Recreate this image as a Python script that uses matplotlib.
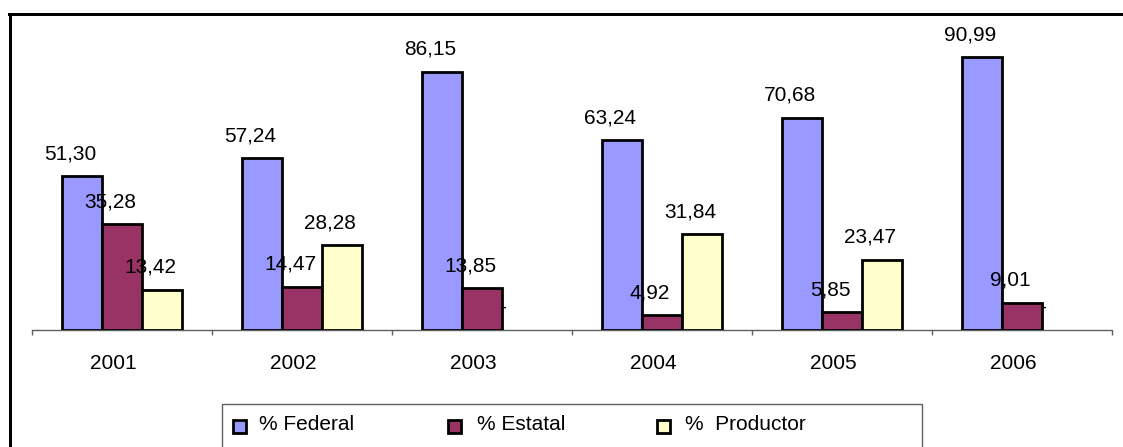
import matplotlib
matplotlib.use("Agg")
import matplotlib.pyplot as plt
import numpy as np
from matplotlib.patches import Rectangle
from matplotlib.lines import Line2D
from matplotlib.transforms import ScaledTranslation

plt.rcParams['font.family'] = ['Liberation Sans', 'DejaVu Sans']

years = ['2001', '2002', '2003', '2004', '2005', '2006']
federal = [51.30, 57.24, 86.15, 63.24, 70.68, 90.99]
estatal = [35.28, 14.47, 13.85, 4.92, 5.85, 9.01]
productor = [13.42, 28.28, 0.0, 31.84, 23.47, 0.0]
series_names = ['% Federal', '% Estatal', '%  Productor']
colors = ['#9999FF', '#993366', '#FFFFCC']

W, H, DPI = 1123, 447, 100
fig = plt.figure(figsize=(W / DPI, H / DPI), dpi=DPI)
px = 72.0 / DPI  # points per pixel

ax = fig.add_axes([32 / W, 1 - 330 / H, 1080 / W, 300 / H])
x = np.arange(len(years))
bw = 0.222
fs = 15

for i, (vals, col) in enumerate(zip([federal, estatal, productor], colors)):
    xs = x + (i - 1) * bw
    lws = [2.0 if v > 0 else 0.0 for v in vals]
    ax.bar(xs, vals, width=bw, color=col, edgecolor='black', linewidth=lws, zorder=3)
    for xi, v in zip(xs, vals):
        if v == 0:
            ax.annotate('-', xy=(xi, v), xytext=(-19 * px, 17 * px), textcoords='offset points',
                        ha='center', va='baseline', fontsize=fs, zorder=4)
        else:
            ax.annotate(f"{v:.2f}".replace('.', ','), xy=(xi, v), xytext=(-12 * px, 17 * px),
                        textcoords='offset points', ha='center', va='baseline', fontsize=fs, zorder=4)

ax.set_xlim(-0.5, len(years) - 0.5)
ax.set_ylim(0, 100)
ax.set_yticks([])
for s in ['top', 'right', 'left']:
    ax.spines[s].set_visible(False)
ax.spines['bottom'].set_color('#606060')
ax.spines['bottom'].set_linewidth(1.0)

ax.set_xticks(np.arange(len(years) + 1) - 0.5)
ax.set_xticklabels([])
ax.tick_params(axis='x', which='major', direction='out', length=5 * px, width=1.0, color='#606060')
ax.set_xticks(x, minor=True)
ax.set_xticklabels(years, minor=True, fontsize=fs)
ax.tick_params(axis='x', which='minor', length=0, pad=17)
for lab in ax.get_xticklabels(minor=True):
    lab.set_transform(lab.get_transform() + ScaledTranslation(-9 / DPI, 0, fig.dpi_scale_trans))
ax.patch.set_visible(False)

# outer frame (top and left edges)
fig.add_artist(Line2D([9 / W, 1.0], [1 - 14 / H, 1 - 14 / H], transform=fig.transFigure,
                      color='black', linewidth=3 * px))
fig.add_artist(Line2D([10 / W, 10 / W], [1 - 14 / H, 0.0], transform=fig.transFigure,
                      color='black', linewidth=3 * px))

# legend box
fig.add_artist(Rectangle((222 / W, -20 / H), 700 / W, (447 - 404 + 20) / H, transform=fig.transFigure,
                         facecolor='white', edgecolor='#606060', linewidth=1.0))
sq_x = [233, 448, 657]
tx_x = [259, 477, 685]
for sx, tx, name, col in zip(sq_x, tx_x, series_names, colors):
    fig.add_artist(Rectangle((sx / W, 1 - 433 / H), 13 / W, 13 / H, transform=fig.transFigure,
                             facecolor=col, edgecolor='black', linewidth=2.0))
    fig.text(tx / W, 1 - 424 / H, name, fontsize=fs, ha='left', va='center')

fig.savefig('out.png', dpi=DPI)
